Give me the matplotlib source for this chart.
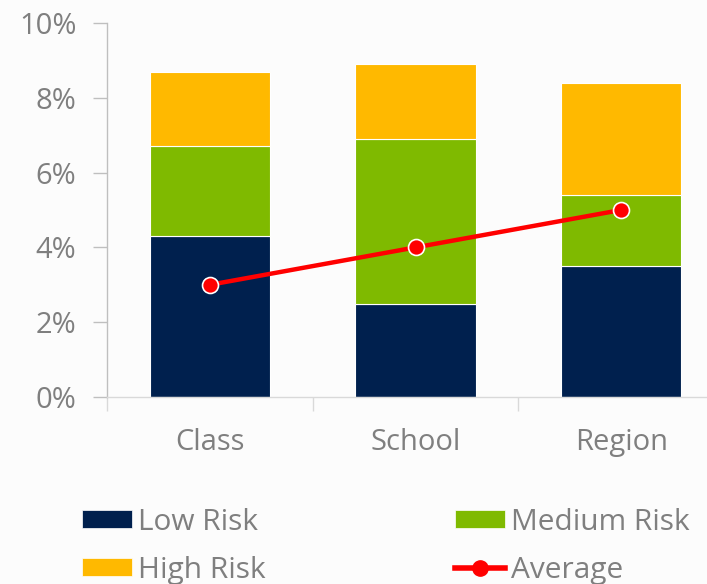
import matplotlib
matplotlib.use("Agg")
import matplotlib.pyplot as plt
from matplotlib.patches import Patch
from matplotlib.lines import Line2D
from matplotlib.ticker import FuncFormatter, MultipleLocator

categories = ["Class", "School", "Region"]
low_risk = [4.3, 2.5, 3.5]
medium_risk = [2.4, 4.4, 1.9]
high_risk = [2.0, 2.0, 3.0]
average = [3.0, 4.0, 5.0]

C_LOW = "#00204E"
C_MED = "#7FBA00"
C_HIGH = "#FFB900"
C_AVG = "#FF0000"
BG = "#FCFCFC"
TXT = "#7F7F7F"

plt.rcParams['font.family'] = ['Open Sans', 'DejaVu Sans']

fig = plt.figure(figsize=(7.07, 5.84), dpi=100, facecolor=BG)
ax = fig.add_axes([107/707, 187/584, 617/707, 374/584], facecolor=BG)

x = list(range(len(categories)))
w = 0.585
b2 = [a + b for a, b in zip(low_risk, medium_risk)]
ax.bar(x, low_risk, w, color=C_LOW, edgecolor="white", linewidth=0.8, zorder=2)
ax.bar(x, medium_risk, w, bottom=low_risk, color=C_MED, edgecolor="white", linewidth=0.8, zorder=2)
ax.bar(x, high_risk, w, bottom=b2, color=C_HIGH, edgecolor="white", linewidth=0.8, zorder=2)
ax.plot(x, average, color=C_AVG, lw=3.2, marker="o", ms=11.5,
        markerfacecolor=C_AVG, markeredgecolor="white", markeredgewidth=1.2, zorder=3)

ax.set_xlim(-0.5, 2.5)
ax.set_ylim(0, 10)
ax.yaxis.set_major_locator(MultipleLocator(2))
ax.yaxis.set_major_formatter(FuncFormatter(lambda v, p: f"{v:.0f}%"))
ax.set_xticks(x)
ax.set_xticklabels(categories)
ax.set_xticks([-0.5, 0.5, 1.5, 2.5], minor=True)
ax.tick_params(axis="x", which="major", length=0, pad=22, labelsize=21, labelcolor=TXT)
ax.tick_params(axis="x", which="minor", length=10, width=1, color="#D9D9D9")
ax.tick_params(axis="y", which="major", length=10, width=1, color="#BFBFBF", pad=12,
               labelsize=21, labelcolor=TXT)

for s in ["top", "right"]:
    ax.spines[s].set_visible(False)
ax.spines["left"].set_color("#BFBFBF")
ax.spines["bottom"].set_color("#D9D9D9")
ax.spines["left"].set_linewidth(1)
ax.spines["bottom"].set_linewidth(1)

h_low = Patch(facecolor=C_LOW, edgecolor="white", linewidth=0.5)
h_med = Patch(facecolor=C_MED, edgecolor="white", linewidth=0.5)
h_high = Patch(facecolor=C_HIGH, edgecolor="white", linewidth=0.5)
h_avg = Line2D([], [], color=C_AVG, lw=4, marker="o", ms=11, markerfacecolor=C_AVG,
               markeredgecolor=C_AVG)

common = dict(frameon=False, fontsize=21.5, labelcolor=TXT, handlelength=1.67,
              handleheight=0.55, handletextpad=0.2, borderpad=0, borderaxespad=0,
              labelspacing=0.62, loc="upper left")
leg1 = fig.legend([h_low, h_high], ["Low Risk", "High Risk"],
                  bbox_to_anchor=(82/707, 1 - 508/584), **common)
leg2 = fig.legend([h_med, h_avg], ["Medium Risk", "Average"],
                  bbox_to_anchor=(455/707, 1 - 508/584), **common)

fig.savefig("out.png", dpi=100, facecolor=BG)
